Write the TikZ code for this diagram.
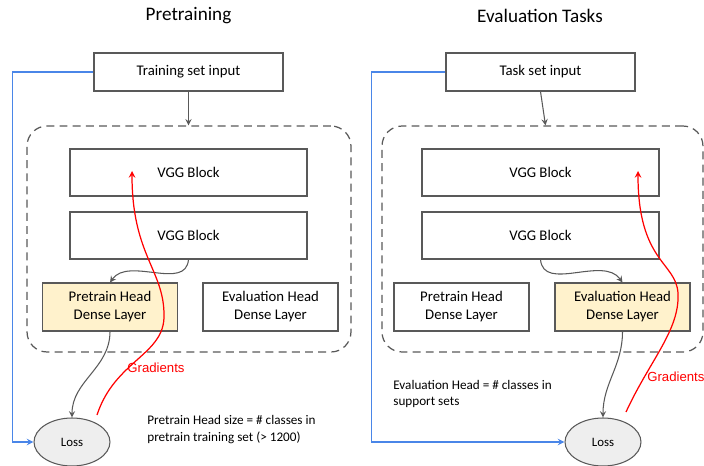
\documentclass[tikz,border=0pt]{standalone}
\usepackage{fontspec}
\setmainfont{Carlito}
\newfontfamily\arialfont{Liberation Sans}
\usetikzlibrary{shapes, arrows, positioning}

\definecolor{edgegrey}{HTML}{595959}
\definecolor{headfill}{HTML}{FFF2CC}
\definecolor{lossfill}{HTML}{EEEEEE}
\definecolor{inputblue}{HTML}{4A86E8}
\definecolor{gradred}{HTML}{FF0000}

\begin{document}
\begin{tikzpicture}[
            x=0.02cm, y=-0.02cm, >=stealth,
            block/.style={draw=edgegrey, line width=0.6pt, rectangle, minimum width=4.74cm, minimum height=0.94cm, font=\fontsize{8.4}{10.2}\selectfont},
            inbox/.style={block, minimum width=3.78cm, minimum height=0.76cm},
            head/.style={block, minimum width=2.7cm, minimum height=0.96cm, align=center},
            loss/.style={draw=edgegrey, fill=lossfill, line width=0.6pt, ellipse, inner sep=0pt, minimum width=1.52cm, minimum height=0.96cm, font=\fontsize{7.3}{9}\selectfont},
            model/.style={draw=edgegrey, line width=0.7pt, dash pattern=on 4.5pt off 3pt, rounded corners=0.4cm, minimum height=4.52cm},
            flow/.style={->, draw=edgegrey, line width=0.6pt},
            feed/.style={->, draw=inputblue, line width=0.7pt},
            grad/.style={->, draw=gradred, line width=0.7pt},
            note/.style={align=left, inner sep=0pt, font=\fontsize{7.5}{9.6}\selectfont},
            title/.style={font=\fontsize{10.9}{13}\selectfont},
            node distance=1.26cm
        ]
            \useasboundingbox (0,0) rectangle (704,466);

            % pretraining
            \node[title] (t1) at (188.5,16) {Pretraining};
            \node[inbox] (in1) at (188.5,72) {Training set input};
            \node[model, minimum width=6.48cm] (m1) at (189,239) {};
            \node[block] (v1a) at (188.5,172.5) {VGG Block};
            \node[block, below of=v1a] (v1b) {VGG Block};
            \node[head, fill=headfill] (ph1) at (110,307) {Pretrain Head\\Dense Layer};
            \node[head] (eh1) at (270.5,307) {Evaluation Head\\Dense Layer};
            \node[loss] (l1) at (72,442) {Loss};
            \node[note, anchor=west] (n1) at (147,429.5) {Pretrain Head size = \# classes in\\pretrain training set (> 1200)};
            \node[font=\arialfont\fontsize{7.5}{9}\selectfont, text=gradred, inner sep=0pt] (g1) at (156,368) {Gradients};
            \coordinate (g1s) at (97,415);
            \coordinate (g1e) at (132,171);

            \draw[flow] (in1.south) -- (in1.south |- m1.north);
            \draw[flow] (v1b.south) to[out=-95, in=55] (ph1.north);
            \draw[flow] (ph1.south) to[out=-90, in=90] (l1.north);
            \draw[feed] (in1.west) -- ++(-81,0) |- (l1.west);
            \draw[grad] (g1s) .. controls (115,360) and (165,355) .. (164,315) .. controls (164,270) and (132,255) .. (g1e);

            % evaluation
            \node[title] (t2) at (540,16) {Evaluation Tasks};
            \node[inbox] (in2) at (540.5,72) {Task set input};
            \node[model, minimum width=6.42cm] (m2) at (542.5,239) {};
            \node[block] (v2a) at (540.5,172.5) {VGG Block};
            \node[block, below of=v2a] (v2b) {VGG Block};
            \node[head] (ph2) at (461.5,307) {Pretrain Head\\Dense Layer};
            \node[head, fill=headfill] (eh2) at (622.5,307) {Evaluation Head\\Dense Layer};
            \node[loss] (l2) at (603,442) {Loss};
            \node[note, anchor=west] (n2) at (393,394) {Evaluation Head = \# classes in\\support sets};
            \node[font=\arialfont\fontsize{7.5}{9}\selectfont, text=gradred, inner sep=0pt, anchor=west] (g2) at (647,377) {Gradients};
            \coordinate (g2s) at (626,412);
            \coordinate (g2e) at (638,171);

            \draw[flow] (in2.south) -- ([xshift=0.06cm]m2.north);
            \draw[flow] (v2b.south) to[out=-85, in=125] (eh2.north);
            \draw[flow] (eh2.south) to[out=-90, in=90] (l2.north);
            \draw[feed] (in2.west) -- ++(-74,0) |- (l2.west);
            \draw[grad] (g2s) .. controls (650,360) and (680,330) .. (678,293) .. controls (676,262) and (638,262) .. (g2e);
        \end{tikzpicture}
\end{document}
